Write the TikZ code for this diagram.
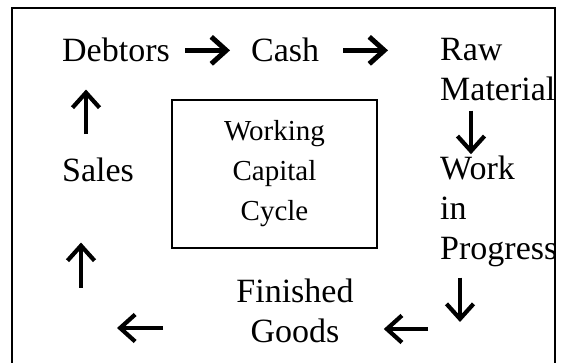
\documentclass[tikz,border=0pt]{standalone}
\usepackage{fontspec}
\setmainfont{Liberation Serif}
\usetikzlibrary{arrows.meta}

\tikzset{
  stage/.style={inner sep=0pt,anchor=base west,align=left,
    font=\fontsize{34}{40}\selectfont},
  flow/.style={-{Straight Barb[length=15pt,width=27pt]},line width=4.2pt},
  heavy/.style={flow,line width=5pt},
}

\begin{document}
\begin{tikzpicture}[x=1pt,y=-1pt]
  \useasboundingbox (0,0) rectangle (565,363);
  \clip (0,0) rectangle (565,363);
  \draw[line width=2pt] (12,8) rectangle (555,380);

  % centre box
  \node[draw,line width=2pt,minimum width=205pt,minimum height=148pt,
    align=center,font=\fontsize{29}{40}\selectfont] (wcc) at (274.5,174)
    {Working\\Capital\\Cycle};

  % the stages round the box (anchored on their last line)
  \node[stage] (debtors) at (62,62) {Debtors};
  \node[stage] (cash) at (251,62) {Cash};
  \node[stage] (raw) at (440,101) {Raw\\Material};
  \node[stage] (wip) at (440,260) {Work\\in\\Progress};
  \node[stage,align=center,anchor=base] (goods) at (295,343) {Finished\\Goods};
  \node[stage] (sales) at (62,182) {Sales};

  % corners where the cycle turns
  \coordinate (turnR) at (460,329);
  \coordinate (turnL) at (81,328);

  \draw[heavy,shorten <=15pt,shorten >=21pt] (debtors.east) -- (cash.west);
  \draw[heavy,shorten <=24pt,shorten >=52pt] (cash.east) -- (cash.east -| raw.west);
  \draw[flow,shorten <=9pt,shorten >=2pt]
    ([xshift=31pt]raw.south west) -- ([xshift=31pt]wip.north west);
  \draw[flow,shorten <=10pt,shorten >=7pt] (turnR |- wip.south) -- (turnR);
  \draw[flow,shorten <=32pt,shorten >=30pt] (turnR) -- (turnR -| goods.east);
  \draw[flow,shorten <=73pt,shorten >=36pt] (turnL -| goods.west) -- (turnL);
  \draw[flow,shorten <=40pt,shorten >=60pt] (turnL) -- (turnL |- sales.south);
  \draw[flow,shorten <=24pt,shorten >=27pt]
    ([xshift=24pt]sales.north west) -- ([xshift=24pt]sales.north west |- debtors.south);
\end{tikzpicture}
\end{document}
